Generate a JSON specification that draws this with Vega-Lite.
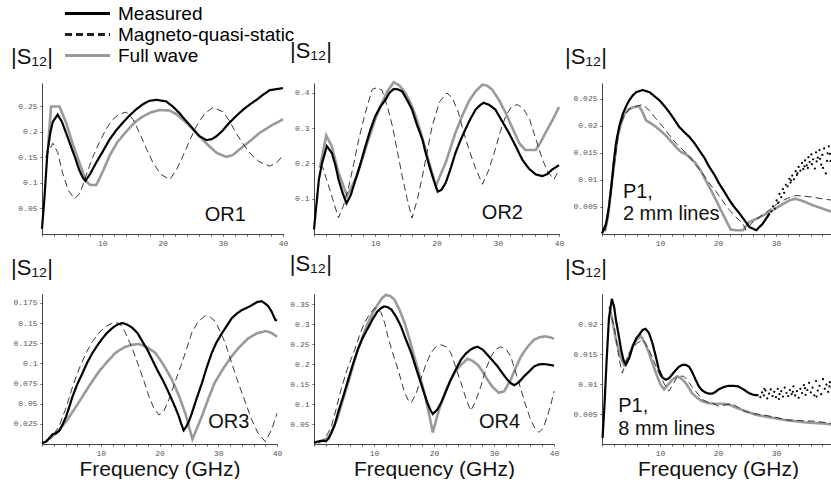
{
"$schema": "https://vega.github.io/schema/vega-lite/v6.json",
"padding": {"left": 11, "top": 3, "right": 0, "bottom": 0},
"autosize": {"type": "pad"},
"columns": 3,
"spacing": {"row": 5, "column": 0},
"align": "each",
"bounds": "full",
"datasets": {
"d": [
{"p":"OR1","s":"F","f":1,"v":0.17},{"p":"OR1","s":"F","f":1.5,"v":0.25},{"p":"OR1","s":"F","f":2.9,"v":0.25},{"p":"OR1","s":"F","f":4,"v":0.218},{"p":"OR1","s":"F","f":5,"v":0.18},{"p":"OR1","s":"F","f":6.2,"v":0.14},{"p":"OR1","s":"F","f":7.3,"v":0.104},{"p":"OR1","s":"F","f":8,"v":0.096},{"p":"OR1","s":"F","f":9,"v":0.096},{"p":"OR1","s":"F","f":10,"v":0.12},{"p":"OR1","s":"F","f":11.2,"v":0.153},{"p":"OR1","s":"F","f":12.5,"v":0.18},{"p":"OR1","s":"F","f":14,"v":0.201},{"p":"OR1","s":"F","f":15.5,"v":0.22},{"p":"OR1","s":"F","f":16.7,"v":0.23},{"p":"OR1","s":"F","f":18,"v":0.238},{"p":"OR1","s":"F","f":19.5,"v":0.243},{"p":"OR1","s":"F","f":21.2,"v":0.242},{"p":"OR1","s":"F","f":22.3,"v":0.235},{"p":"OR1","s":"F","f":23.4,"v":0.224},{"p":"OR1","s":"F","f":24.8,"v":0.208},{"p":"OR1","s":"F","f":26.1,"v":0.192},{"p":"OR1","s":"F","f":27.5,"v":0.175},{"p":"OR1","s":"F","f":29,"v":0.159},{"p":"OR1","s":"F","f":30.6,"v":0.151},{"p":"OR1","s":"F","f":31.7,"v":0.155},{"p":"OR1","s":"F","f":32.8,"v":0.166},{"p":"OR1","s":"F","f":34.5,"v":0.182},{"p":"OR1","s":"F","f":36.1,"v":0.198},{"p":"OR1","s":"F","f":38,"v":0.212},{"p":"OR1","s":"F","f":40,"v":0.225},
{"p":"OR1","s":"Q","f":0.6,"v":0.15},{"p":"OR1","s":"Q","f":1.8,"v":0.178},{"p":"OR1","s":"Q","f":2.6,"v":0.16},{"p":"OR1","s":"Q","f":3.4,"v":0.12},{"p":"OR1","s":"Q","f":4.4,"v":0.085},{"p":"OR1","s":"Q","f":5.4,"v":0.069},{"p":"OR1","s":"Q","f":6.3,"v":0.08},{"p":"OR1","s":"Q","f":7.3,"v":0.114},{"p":"OR1","s":"Q","f":8.4,"v":0.15},{"p":"OR1","s":"Q","f":9.5,"v":0.179},{"p":"OR1","s":"Q","f":10.6,"v":0.205},{"p":"OR1","s":"Q","f":11.7,"v":0.224},{"p":"OR1","s":"Q","f":12.8,"v":0.235},{"p":"OR1","s":"Q","f":14,"v":0.239},{"p":"OR1","s":"Q","f":15.1,"v":0.225},{"p":"OR1","s":"Q","f":16.2,"v":0.198},{"p":"OR1","s":"Q","f":17.3,"v":0.168},{"p":"OR1","s":"Q","f":18.4,"v":0.14},{"p":"OR1","s":"Q","f":19.7,"v":0.117},{"p":"OR1","s":"Q","f":21.2,"v":0.107},{"p":"OR1","s":"Q","f":22.3,"v":0.125},{"p":"OR1","s":"Q","f":23.4,"v":0.153},{"p":"OR1","s":"Q","f":24.5,"v":0.183},{"p":"OR1","s":"Q","f":25.6,"v":0.211},{"p":"OR1","s":"Q","f":27,"v":0.236},{"p":"OR1","s":"Q","f":28.4,"v":0.248},{"p":"OR1","s":"Q","f":30,"v":0.24},{"p":"OR1","s":"Q","f":31.1,"v":0.222},{"p":"OR1","s":"Q","f":32.2,"v":0.198},{"p":"OR1","s":"Q","f":33.4,"v":0.176},{"p":"OR1","s":"Q","f":34.5,"v":0.159},{"p":"OR1","s":"Q","f":36,"v":0.142},{"p":"OR1","s":"Q","f":37.8,"v":0.133},{"p":"OR1","s":"Q","f":39,"v":0.14},{"p":"OR1","s":"Q","f":40,"v":0.154},
{"p":"OR1","s":"M","f":0,"v":0.01},{"p":"OR1","s":"M","f":0.4,"v":0.07},{"p":"OR1","s":"M","f":0.9,"v":0.16},{"p":"OR1","s":"M","f":1.4,"v":0.2},{"p":"OR1","s":"M","f":1.8,"v":0.22},{"p":"OR1","s":"M","f":2.6,"v":0.234},{"p":"OR1","s":"M","f":3.3,"v":0.22},{"p":"OR1","s":"M","f":4,"v":0.198},{"p":"OR1","s":"M","f":4.8,"v":0.172},{"p":"OR1","s":"M","f":5.6,"v":0.146},{"p":"OR1","s":"M","f":6.2,"v":0.125},{"p":"OR1","s":"M","f":6.8,"v":0.11},{"p":"OR1","s":"M","f":7.2,"v":0.104},{"p":"OR1","s":"M","f":8,"v":0.118},{"p":"OR1","s":"M","f":9,"v":0.14},{"p":"OR1","s":"M","f":10,"v":0.16},{"p":"OR1","s":"M","f":11.2,"v":0.185},{"p":"OR1","s":"M","f":12.3,"v":0.203},{"p":"OR1","s":"M","f":13.4,"v":0.218},{"p":"OR1","s":"M","f":14.5,"v":0.232},{"p":"OR1","s":"M","f":15.6,"v":0.244},{"p":"OR1","s":"M","f":16.7,"v":0.254},{"p":"OR1","s":"M","f":17.8,"v":0.261},{"p":"OR1","s":"M","f":19,"v":0.263},{"p":"OR1","s":"M","f":20.6,"v":0.26},{"p":"OR1","s":"M","f":21.7,"v":0.25},{"p":"OR1","s":"M","f":22.8,"v":0.237},{"p":"OR1","s":"M","f":23.6,"v":0.226},{"p":"OR1","s":"M","f":24.5,"v":0.214},{"p":"OR1","s":"M","f":25.3,"v":0.203},{"p":"OR1","s":"M","f":26.1,"v":0.192},{"p":"OR1","s":"M","f":27.3,"v":0.184},{"p":"OR1","s":"M","f":28.2,"v":0.186},{"p":"OR1","s":"M","f":29,"v":0.192},{"p":"OR1","s":"M","f":30,"v":0.203},{"p":"OR1","s":"M","f":31.1,"v":0.218},{"p":"OR1","s":"M","f":32.2,"v":0.231},{"p":"OR1","s":"M","f":33.4,"v":0.244},{"p":"OR1","s":"M","f":34.5,"v":0.254},{"p":"OR1","s":"M","f":35.6,"v":0.263},{"p":"OR1","s":"M","f":36.7,"v":0.273},{"p":"OR1","s":"M","f":37.8,"v":0.282},{"p":"OR1","s":"M","f":38.9,"v":0.284},{"p":"OR1","s":"M","f":40,"v":0.286},

{"p":"OR2","s":"F","f":1,"v":0.192},{"p":"OR2","s":"F","f":2,"v":0.279},{"p":"OR2","s":"F","f":2.9,"v":0.249},{"p":"OR2","s":"F","f":4,"v":0.174},{"p":"OR2","s":"F","f":5.4,"v":0.108},{"p":"OR2","s":"F","f":7,"v":0.164},{"p":"OR2","s":"F","f":8.9,"v":0.268},{"p":"OR2","s":"F","f":10,"v":0.325},{"p":"OR2","s":"F","f":11.1,"v":0.372},{"p":"OR2","s":"F","f":12,"v":0.405},{"p":"OR2","s":"F","f":13,"v":0.43},{"p":"OR2","s":"F","f":14,"v":0.42},{"p":"OR2","s":"F","f":14.9,"v":0.4},{"p":"OR2","s":"F","f":15.8,"v":0.37},{"p":"OR2","s":"F","f":16.6,"v":0.334},{"p":"OR2","s":"F","f":17.4,"v":0.29},{"p":"OR2","s":"F","f":18.2,"v":0.24},{"p":"OR2","s":"F","f":19,"v":0.19},{"p":"OR2","s":"F","f":19.9,"v":0.136},{"p":"OR2","s":"F","f":20.7,"v":0.17},{"p":"OR2","s":"F","f":21.5,"v":0.202},{"p":"OR2","s":"F","f":22.3,"v":0.245},{"p":"OR2","s":"F","f":23.1,"v":0.287},{"p":"OR2","s":"F","f":24.2,"v":0.335},{"p":"OR2","s":"F","f":25.3,"v":0.377},{"p":"OR2","s":"F","f":26.4,"v":0.405},{"p":"OR2","s":"F","f":27.5,"v":0.423},{"p":"OR2","s":"F","f":28.3,"v":0.42},{"p":"OR2","s":"F","f":29.1,"v":0.409},{"p":"OR2","s":"F","f":30.2,"v":0.38},{"p":"OR2","s":"F","f":31.3,"v":0.343},{"p":"OR2","s":"F","f":32.4,"v":0.3},{"p":"OR2","s":"F","f":33.5,"v":0.258},{"p":"OR2","s":"F","f":34.5,"v":0.238},{"p":"OR2","s":"F","f":36.2,"v":0.238},{"p":"OR2","s":"F","f":37,"v":0.26},{"p":"OR2","s":"F","f":37.8,"v":0.287},{"p":"OR2","s":"F","f":39,"v":0.325},{"p":"OR2","s":"F","f":40,"v":0.36},
{"p":"OR2","s":"Q","f":0.8,"v":0.19},{"p":"OR2","s":"Q","f":1.4,"v":0.19},{"p":"OR2","s":"Q","f":2.4,"v":0.136},{"p":"OR2","s":"Q","f":3.2,"v":0.09},{"p":"OR2","s":"Q","f":4,"v":0.046},{"p":"OR2","s":"Q","f":4.8,"v":0.08},{"p":"OR2","s":"Q","f":5.7,"v":0.136},{"p":"OR2","s":"Q","f":6.5,"v":0.2},{"p":"OR2","s":"Q","f":7.3,"v":0.268},{"p":"OR2","s":"Q","f":8.4,"v":0.345},{"p":"OR2","s":"Q","f":9.5,"v":0.41},{"p":"OR2","s":"Q","f":10.3,"v":0.415},{"p":"OR2","s":"Q","f":11.1,"v":0.408},{"p":"OR2","s":"Q","f":12,"v":0.36},{"p":"OR2","s":"Q","f":12.8,"v":0.306},{"p":"OR2","s":"Q","f":13.6,"v":0.235},{"p":"OR2","s":"Q","f":14.4,"v":0.164},{"p":"OR2","s":"Q","f":15.2,"v":0.1},{"p":"OR2","s":"Q","f":16,"v":0.045},{"p":"OR2","s":"Q","f":16.9,"v":0.1},{"p":"OR2","s":"Q","f":17.7,"v":0.164},{"p":"OR2","s":"Q","f":18.5,"v":0.235},{"p":"OR2","s":"Q","f":19.3,"v":0.306},{"p":"OR2","s":"Q","f":20.5,"v":0.375},{"p":"OR2","s":"Q","f":21.7,"v":0.4},{"p":"OR2","s":"Q","f":22.6,"v":0.385},{"p":"OR2","s":"Q","f":23.6,"v":0.343},{"p":"OR2","s":"Q","f":24.4,"v":0.29},{"p":"OR2","s":"Q","f":25.3,"v":0.24},{"p":"OR2","s":"Q","f":26.4,"v":0.185},{"p":"OR2","s":"Q","f":27.5,"v":0.141},{"p":"OR2","s":"Q","f":28.5,"v":0.18},{"p":"OR2","s":"Q","f":29.6,"v":0.24},{"p":"OR2","s":"Q","f":30.4,"v":0.29},{"p":"OR2","s":"Q","f":31.3,"v":0.334},{"p":"OR2","s":"Q","f":32.2,"v":0.36},{"p":"OR2","s":"Q","f":33.2,"v":0.367},{"p":"OR2","s":"Q","f":34.2,"v":0.355},{"p":"OR2","s":"Q","f":35.2,"v":0.325},{"p":"OR2","s":"Q","f":36.2,"v":0.27},{"p":"OR2","s":"Q","f":37.3,"v":0.211},{"p":"OR2","s":"Q","f":38.2,"v":0.175},{"p":"OR2","s":"Q","f":39.2,"v":0.155},{"p":"OR2","s":"Q","f":40,"v":0.183},
{"p":"OR2","s":"M","f":0,"v":0.013},{"p":"OR2","s":"M","f":0.8,"v":0.155},{"p":"OR2","s":"M","f":1.3,"v":0.2},{"p":"OR2","s":"M","f":2.1,"v":0.249},{"p":"OR2","s":"M","f":2.9,"v":0.23},{"p":"OR2","s":"M","f":3.5,"v":0.195},{"p":"OR2","s":"M","f":4,"v":0.155},{"p":"OR2","s":"M","f":4.7,"v":0.115},{"p":"OR2","s":"M","f":5.3,"v":0.087},{"p":"OR2","s":"M","f":6,"v":0.11},{"p":"OR2","s":"M","f":6.8,"v":0.155},{"p":"OR2","s":"M","f":7.6,"v":0.2},{"p":"OR2","s":"M","f":8.4,"v":0.249},{"p":"OR2","s":"M","f":9.2,"v":0.295},{"p":"OR2","s":"M","f":10,"v":0.334},{"p":"OR2","s":"M","f":10.8,"v":0.36},{"p":"OR2","s":"M","f":11.7,"v":0.381},{"p":"OR2","s":"M","f":12.3,"v":0.4},{"p":"OR2","s":"M","f":13,"v":0.411},{"p":"OR2","s":"M","f":13.7,"v":0.41},{"p":"OR2","s":"M","f":14.4,"v":0.404},{"p":"OR2","s":"M","f":15.2,"v":0.38},{"p":"OR2","s":"M","f":16,"v":0.353},{"p":"OR2","s":"M","f":16.8,"v":0.31},{"p":"OR2","s":"M","f":17.7,"v":0.268},{"p":"OR2","s":"M","f":18.3,"v":0.225},{"p":"OR2","s":"M","f":19,"v":0.183},{"p":"OR2","s":"M","f":19.6,"v":0.15},{"p":"OR2","s":"M","f":20.2,"v":0.12},{"p":"OR2","s":"M","f":20.8,"v":0.125},{"p":"OR2","s":"M","f":21.5,"v":0.145},{"p":"OR2","s":"M","f":22.3,"v":0.185},{"p":"OR2","s":"M","f":23.1,"v":0.23},{"p":"OR2","s":"M","f":23.9,"v":0.265},{"p":"OR2","s":"M","f":24.7,"v":0.296},{"p":"OR2","s":"M","f":25.5,"v":0.325},{"p":"OR2","s":"M","f":26.4,"v":0.353},{"p":"OR2","s":"M","f":27.1,"v":0.365},{"p":"OR2","s":"M","f":27.7,"v":0.372},{"p":"OR2","s":"M","f":28.6,"v":0.366},{"p":"OR2","s":"M","f":29.6,"v":0.353},{"p":"OR2","s":"M","f":30.7,"v":0.32},{"p":"OR2","s":"M","f":31.8,"v":0.287},{"p":"OR2","s":"M","f":32.9,"v":0.25},{"p":"OR2","s":"M","f":34,"v":0.211},{"p":"OR2","s":"M","f":35.1,"v":0.185},{"p":"OR2","s":"M","f":36.2,"v":0.169},{"p":"OR2","s":"M","f":37.3,"v":0.164},{"p":"OR2","s":"M","f":38.1,"v":0.17},{"p":"OR2","s":"M","f":38.9,"v":0.183},{"p":"OR2","s":"M","f":40,"v":0.195},

{"p":"P1a","s":"F","f":0.5,"v":0.0005},{"p":"P1a","s":"F","f":1,"v":0.003},{"p":"P1a","s":"F","f":1.6,"v":0.0087},{"p":"P1a","s":"F","f":2.2,"v":0.014},{"p":"P1a","s":"F","f":2.7,"v":0.018},{"p":"P1a","s":"F","f":3.3,"v":0.0205},{"p":"P1a","s":"F","f":3.9,"v":0.0222},{"p":"P1a","s":"F","f":4.6,"v":0.023},{"p":"P1a","s":"F","f":5.3,"v":0.0234},{"p":"P1a","s":"F","f":6.4,"v":0.0236},{"p":"P1a","s":"F","f":7,"v":0.0225},{"p":"P1a","s":"F","f":7.6,"v":0.021},{"p":"P1a","s":"F","f":8.5,"v":0.0204},{"p":"P1a","s":"F","f":9.3,"v":0.0198},{"p":"P1a","s":"F","f":10.2,"v":0.019},{"p":"P1a","s":"F","f":11,"v":0.0182},{"p":"P1a","s":"F","f":11.9,"v":0.0171},{"p":"P1a","s":"F","f":12.8,"v":0.016},{"p":"P1a","s":"F","f":13.6,"v":0.0152},{"p":"P1a","s":"F","f":14.5,"v":0.0147},{"p":"P1a","s":"F","f":15.3,"v":0.014},{"p":"P1a","s":"F","f":16.2,"v":0.013},{"p":"P1a","s":"F","f":17,"v":0.0117},{"p":"P1a","s":"F","f":17.9,"v":0.0099},{"p":"P1a","s":"F","f":18.8,"v":0.0081},{"p":"P1a","s":"F","f":19.7,"v":0.0062},{"p":"P1a","s":"F","f":20.5,"v":0.0044},{"p":"P1a","s":"F","f":21.4,"v":0.0025},{"p":"P1a","s":"F","f":22.2,"v":0.0008},{"p":"P1a","s":"F","f":23.2,"v":0.0007},{"p":"P1a","s":"F","f":24.3,"v":0.0007},{"p":"P1a","s":"F","f":25.4,"v":0.0022},{"p":"P1a","s":"F","f":26.6,"v":0.0028},{"p":"P1a","s":"F","f":27.7,"v":0.0034},{"p":"P1a","s":"F","f":28.8,"v":0.004},{"p":"P1a","s":"F","f":29.9,"v":0.0047},{"p":"P1a","s":"F","f":31.1,"v":0.0055},{"p":"P1a","s":"F","f":32.3,"v":0.0062},{"p":"P1a","s":"F","f":33.4,"v":0.0065},{"p":"P1a","s":"F","f":34.6,"v":0.0061},{"p":"P1a","s":"F","f":35.7,"v":0.0056},{"p":"P1a","s":"F","f":36.9,"v":0.0051},{"p":"P1a","s":"F","f":38,"v":0.0047},{"p":"P1a","s":"F","f":39,"v":0.0043},{"p":"P1a","s":"F","f":40,"v":0.004},
{"p":"P1a","s":"Q","f":0.5,"v":0.0005},{"p":"P1a","s":"Q","f":1,"v":0.003},{"p":"P1a","s":"Q","f":1.6,"v":0.008},{"p":"P1a","s":"Q","f":2.3,"v":0.014},{"p":"P1a","s":"Q","f":3,"v":0.0198},{"p":"P1a","s":"Q","f":3.8,"v":0.0218},{"p":"P1a","s":"Q","f":4.7,"v":0.0231},{"p":"P1a","s":"Q","f":5.8,"v":0.0236},{"p":"P1a","s":"Q","f":7,"v":0.0239},{"p":"P1a","s":"Q","f":8.2,"v":0.0228},{"p":"P1a","s":"Q","f":9.3,"v":0.0213},{"p":"P1a","s":"Q","f":10.5,"v":0.0198},{"p":"P1a","s":"Q","f":11.6,"v":0.0183},{"p":"P1a","s":"Q","f":12.8,"v":0.0167},{"p":"P1a","s":"Q","f":14,"v":0.0155},{"p":"P1a","s":"Q","f":15.1,"v":0.0142},{"p":"P1a","s":"Q","f":16.2,"v":0.0127},{"p":"P1a","s":"Q","f":17.4,"v":0.0111},{"p":"P1a","s":"Q","f":18.5,"v":0.0094},{"p":"P1a","s":"Q","f":19.7,"v":0.0078},{"p":"P1a","s":"Q","f":20.8,"v":0.0061},{"p":"P1a","s":"Q","f":22,"v":0.0044},{"p":"P1a","s":"Q","f":23.1,"v":0.0031},{"p":"P1a","s":"Q","f":24.3,"v":0.0019},{"p":"P1a","s":"Q","f":24.8,"v":0.0007},{"p":"P1a","s":"Q","f":26,"v":0.0022},{"p":"P1a","s":"Q","f":27.1,"v":0.0031},{"p":"P1a","s":"Q","f":28.3,"v":0.004},{"p":"P1a","s":"Q","f":29.5,"v":0.005},{"p":"P1a","s":"Q","f":30.6,"v":0.0059},{"p":"P1a","s":"Q","f":32,"v":0.0066},{"p":"P1a","s":"Q","f":33.4,"v":0.0071},{"p":"P1a","s":"Q","f":34.8,"v":0.007},{"p":"P1a","s":"Q","f":36.3,"v":0.0068},{"p":"P1a","s":"Q","f":38,"v":0.0065},{"p":"P1a","s":"Q","f":40,"v":0.0062},
{"p":"P1a","s":"M","f":0,"v":0.0001},{"p":"P1a","s":"M","f":0.7,"v":0.0019},{"p":"P1a","s":"M","f":1.2,"v":0.005},{"p":"P1a","s":"M","f":1.6,"v":0.0087},{"p":"P1a","s":"M","f":2,"v":0.013},{"p":"P1a","s":"M","f":2.4,"v":0.0167},{"p":"P1a","s":"M","f":3,"v":0.02},{"p":"P1a","s":"M","f":3.6,"v":0.0222},{"p":"P1a","s":"M","f":4.2,"v":0.0237},{"p":"P1a","s":"M","f":4.7,"v":0.0247},{"p":"P1a","s":"M","f":5.3,"v":0.0256},{"p":"P1a","s":"M","f":5.9,"v":0.0262},{"p":"P1a","s":"M","f":7,"v":0.0266},{"p":"P1a","s":"M","f":8.2,"v":0.0262},{"p":"P1a","s":"M","f":9,"v":0.0255},{"p":"P1a","s":"M","f":9.9,"v":0.0247},{"p":"P1a","s":"M","f":10.8,"v":0.0236},{"p":"P1a","s":"M","f":11.6,"v":0.0225},{"p":"P1a","s":"M","f":12.5,"v":0.0211},{"p":"P1a","s":"M","f":13.3,"v":0.0198},{"p":"P1a","s":"M","f":14.2,"v":0.0188},{"p":"P1a","s":"M","f":15.1,"v":0.0179},{"p":"P1a","s":"M","f":16,"v":0.0167},{"p":"P1a","s":"M","f":16.8,"v":0.0154},{"p":"P1a","s":"M","f":17.7,"v":0.014},{"p":"P1a","s":"M","f":18.5,"v":0.0124},{"p":"P1a","s":"M","f":19.4,"v":0.0109},{"p":"P1a","s":"M","f":20.2,"v":0.0093},{"p":"P1a","s":"M","f":21.1,"v":0.0078},{"p":"P1a","s":"M","f":22,"v":0.0062},{"p":"P1a","s":"M","f":22.8,"v":0.005},{"p":"P1a","s":"M","f":23.7,"v":0.0038},{"p":"P1a","s":"M","f":24.6,"v":0.0025},{"p":"P1a","s":"M","f":25.4,"v":0.0013},{"p":"P1a","s":"M","f":26.6,"v":0.0007},{"p":"P1a","s":"M","f":27.7,"v":0.0019},{"p":"P1a","s":"M","f":28.9,"v":0.0038},

{"p":"OR3","s":"F","f":0.4,"v":0.002},{"p":"OR3","s":"F","f":1.8,"v":0.0095},{"p":"OR3","s":"F","f":3,"v":0.018},{"p":"OR3","s":"F","f":4.1,"v":0.028},{"p":"OR3","s":"F","f":5.5,"v":0.043},{"p":"OR3","s":"F","f":6.9,"v":0.059},{"p":"OR3","s":"F","f":8.3,"v":0.075},{"p":"OR3","s":"F","f":9.7,"v":0.09},{"p":"OR3","s":"F","f":11.1,"v":0.102},{"p":"OR3","s":"F","f":12.5,"v":0.113},{"p":"OR3","s":"F","f":14,"v":0.12},{"p":"OR3","s":"F","f":15.3,"v":0.123},{"p":"OR3","s":"F","f":16.5,"v":0.124},{"p":"OR3","s":"F","f":17.9,"v":0.12},{"p":"OR3","s":"F","f":19.3,"v":0.113},{"p":"OR3","s":"F","f":20.7,"v":0.098},{"p":"OR3","s":"F","f":22.1,"v":0.08},{"p":"OR3","s":"F","f":23.3,"v":0.06},{"p":"OR3","s":"F","f":24.4,"v":0.038},{"p":"OR3","s":"F","f":25,"v":0.022},{"p":"OR3","s":"F","f":25.6,"v":0.006},{"p":"OR3","s":"F","f":26.4,"v":0.02},{"p":"OR3","s":"F","f":27.2,"v":0.034},{"p":"OR3","s":"F","f":28.3,"v":0.056},{"p":"OR3","s":"F","f":29.4,"v":0.076},{"p":"OR3","s":"F","f":30.8,"v":0.093},{"p":"OR3","s":"F","f":32.3,"v":0.109},{"p":"OR3","s":"F","f":33.7,"v":0.121},{"p":"OR3","s":"F","f":35.1,"v":0.131},{"p":"OR3","s":"F","f":36.5,"v":0.137},{"p":"OR3","s":"F","f":38,"v":0.14},{"p":"OR3","s":"F","f":39,"v":0.138},{"p":"OR3","s":"F","f":40,"v":0.133},
{"p":"OR3","s":"Q","f":0.7,"v":0.003},{"p":"OR3","s":"Q","f":1.8,"v":0.01},{"p":"OR3","s":"Q","f":2.9,"v":0.022},{"p":"OR3","s":"Q","f":4.1,"v":0.045},{"p":"OR3","s":"Q","f":5.2,"v":0.071},{"p":"OR3","s":"Q","f":6.3,"v":0.093},{"p":"OR3","s":"Q","f":7.5,"v":0.113},{"p":"OR3","s":"Q","f":8.6,"v":0.127},{"p":"OR3","s":"Q","f":9.7,"v":0.138},{"p":"OR3","s":"Q","f":10.9,"v":0.146},{"p":"OR3","s":"Q","f":12,"v":0.15},{"p":"OR3","s":"Q","f":12.7,"v":0.151},{"p":"OR3","s":"Q","f":13.5,"v":0.147},{"p":"OR3","s":"Q","f":14.2,"v":0.138},{"p":"OR3","s":"Q","f":15.4,"v":0.118},{"p":"OR3","s":"Q","f":16.5,"v":0.096},{"p":"OR3","s":"Q","f":17.4,"v":0.077},{"p":"OR3","s":"Q","f":18.2,"v":0.059},{"p":"OR3","s":"Q","f":19,"v":0.045},{"p":"OR3","s":"Q","f":19.9,"v":0.036},{"p":"OR3","s":"Q","f":20.7,"v":0.04},{"p":"OR3","s":"Q","f":21.6,"v":0.055},{"p":"OR3","s":"Q","f":22.7,"v":0.078},{"p":"OR3","s":"Q","f":23.8,"v":0.1},{"p":"OR3","s":"Q","f":24.7,"v":0.12},{"p":"OR3","s":"Q","f":25.5,"v":0.138},{"p":"OR3","s":"Q","f":26.6,"v":0.152},{"p":"OR3","s":"Q","f":27.8,"v":0.159},{"p":"OR3","s":"Q","f":28.7,"v":0.157},{"p":"OR3","s":"Q","f":29.5,"v":0.152},{"p":"OR3","s":"Q","f":30.3,"v":0.14},{"p":"OR3","s":"Q","f":31.2,"v":0.125},{"p":"OR3","s":"Q","f":32.3,"v":0.1},{"p":"OR3","s":"Q","f":33.4,"v":0.076},{"p":"OR3","s":"Q","f":34.6,"v":0.052},{"p":"OR3","s":"Q","f":35.7,"v":0.03},{"p":"OR3","s":"Q","f":36.8,"v":0.013},{"p":"OR3","s":"Q","f":38,"v":0.003},{"p":"OR3","s":"Q","f":39.1,"v":0.018},{"p":"OR3","s":"Q","f":40,"v":0.038},
{"p":"OR3","s":"M","f":0,"v":0.001},{"p":"OR3","s":"M","f":0.7,"v":0.003},{"p":"OR3","s":"M","f":1.2,"v":0.007},{"p":"OR3","s":"M","f":1.8,"v":0.012},{"p":"OR3","s":"M","f":2.3,"v":0.013},{"p":"OR3","s":"M","f":2.9,"v":0.016},{"p":"OR3","s":"M","f":3.5,"v":0.024},{"p":"OR3","s":"M","f":4.1,"v":0.034},{"p":"OR3","s":"M","f":4.6,"v":0.045},{"p":"OR3","s":"M","f":5.2,"v":0.059},{"p":"OR3","s":"M","f":6,"v":0.074},{"p":"OR3","s":"M","f":6.9,"v":0.088},{"p":"OR3","s":"M","f":7.7,"v":0.101},{"p":"OR3","s":"M","f":8.6,"v":0.113},{"p":"OR3","s":"M","f":9.4,"v":0.122},{"p":"OR3","s":"M","f":10.3,"v":0.131},{"p":"OR3","s":"M","f":11.1,"v":0.138},{"p":"OR3","s":"M","f":12,"v":0.144},{"p":"OR3","s":"M","f":12.8,"v":0.148},{"p":"OR3","s":"M","f":13.7,"v":0.15},{"p":"OR3","s":"M","f":14.5,"v":0.148},{"p":"OR3","s":"M","f":15.4,"v":0.144},{"p":"OR3","s":"M","f":16.3,"v":0.137},{"p":"OR3","s":"M","f":17.1,"v":0.127},{"p":"OR3","s":"M","f":18,"v":0.116},{"p":"OR3","s":"M","f":18.8,"v":0.104},{"p":"OR3","s":"M","f":19.6,"v":0.092},{"p":"OR3","s":"M","f":20.5,"v":0.08},{"p":"OR3","s":"M","f":21.3,"v":0.068},{"p":"OR3","s":"M","f":22.1,"v":0.055},{"p":"OR3","s":"M","f":22.7,"v":0.045},{"p":"OR3","s":"M","f":23.3,"v":0.034},{"p":"OR3","s":"M","f":23.7,"v":0.025},{"p":"OR3","s":"M","f":24.1,"v":0.017},{"p":"OR3","s":"M","f":24.6,"v":0.022},{"p":"OR3","s":"M","f":25,"v":0.028},{"p":"OR3","s":"M","f":25.5,"v":0.038},{"p":"OR3","s":"M","f":26.3,"v":0.056},{"p":"OR3","s":"M","f":27.2,"v":0.075},{"p":"OR3","s":"M","f":28,"v":0.094},{"p":"OR3","s":"M","f":28.9,"v":0.113},{"p":"OR3","s":"M","f":29.7,"v":0.126},{"p":"OR3","s":"M","f":30.6,"v":0.137},{"p":"OR3","s":"M","f":31.5,"v":0.147},{"p":"OR3","s":"M","f":32.3,"v":0.156},{"p":"OR3","s":"M","f":33.2,"v":0.162},{"p":"OR3","s":"M","f":34,"v":0.166},{"p":"OR3","s":"M","f":34.9,"v":0.169},{"p":"OR3","s":"M","f":35.7,"v":0.172},{"p":"OR3","s":"M","f":36.6,"v":0.176},{"p":"OR3","s":"M","f":37.4,"v":0.177},{"p":"OR3","s":"M","f":38,"v":0.174},{"p":"OR3","s":"M","f":38.5,"v":0.171},{"p":"OR3","s":"M","f":39.1,"v":0.164},{"p":"OR3","s":"M","f":39.7,"v":0.154},{"p":"OR3","s":"M","f":40,"v":0.153},

{"p":"OR4","s":"F","f":0.7,"v":0.003},{"p":"OR4","s":"F","f":2.3,"v":0.015},{"p":"OR4","s":"F","f":3.1,"v":0.035},{"p":"OR4","s":"F","f":4,"v":0.069},{"p":"OR4","s":"F","f":4.8,"v":0.11},{"p":"OR4","s":"F","f":5.7,"v":0.153},{"p":"OR4","s":"F","f":6.5,"v":0.195},{"p":"OR4","s":"F","f":7.3,"v":0.236},{"p":"OR4","s":"F","f":8.2,"v":0.272},{"p":"OR4","s":"F","f":9,"v":0.303},{"p":"OR4","s":"F","f":9.8,"v":0.328},{"p":"OR4","s":"F","f":10.6,"v":0.348},{"p":"OR4","s":"F","f":11.3,"v":0.364},{"p":"OR4","s":"F","f":12,"v":0.373},{"p":"OR4","s":"F","f":12.7,"v":0.37},{"p":"OR4","s":"F","f":13.4,"v":0.361},{"p":"OR4","s":"F","f":14.2,"v":0.337},{"p":"OR4","s":"F","f":15.1,"v":0.303},{"p":"OR4","s":"F","f":15.9,"v":0.263},{"p":"OR4","s":"F","f":16.7,"v":0.219},{"p":"OR4","s":"F","f":17.6,"v":0.172},{"p":"OR4","s":"F","f":18.4,"v":0.128},{"p":"OR4","s":"F","f":19.1,"v":0.08},{"p":"OR4","s":"F","f":19.8,"v":0.029},{"p":"OR4","s":"F","f":20.5,"v":0.068},{"p":"OR4","s":"F","f":21.2,"v":0.103},{"p":"OR4","s":"F","f":22,"v":0.135},{"p":"OR4","s":"F","f":22.8,"v":0.161},{"p":"OR4","s":"F","f":23.6,"v":0.182},{"p":"OR4","s":"F","f":24.5,"v":0.198},{"p":"OR4","s":"F","f":25.6,"v":0.213},{"p":"OR4","s":"F","f":26.4,"v":0.208},{"p":"OR4","s":"F","f":27.3,"v":0.198},{"p":"OR4","s":"F","f":28.1,"v":0.181},{"p":"OR4","s":"F","f":28.9,"v":0.161},{"p":"OR4","s":"F","f":29.8,"v":0.142},{"p":"OR4","s":"F","f":30.8,"v":0.128},{"p":"OR4","s":"F","f":31.7,"v":0.132},{"p":"OR4","s":"F","f":32.8,"v":0.161},{"p":"OR4","s":"F","f":33.6,"v":0.19},{"p":"OR4","s":"F","f":34.5,"v":0.219},{"p":"OR4","s":"F","f":35.6,"v":0.243},{"p":"OR4","s":"F","f":36.7,"v":0.261},{"p":"OR4","s":"F","f":37.6,"v":0.267},{"p":"OR4","s":"F","f":38.6,"v":0.269},{"p":"OR4","s":"F","f":39.3,"v":0.267},{"p":"OR4","s":"F","f":40,"v":0.263},
{"p":"OR4","s":"Q","f":0.7,"v":0.004},{"p":"OR4","s":"Q","f":1.8,"v":0.012},{"p":"OR4","s":"Q","f":2.9,"v":0.044},{"p":"OR4","s":"Q","f":3.7,"v":0.088},{"p":"OR4","s":"Q","f":4.5,"v":0.136},{"p":"OR4","s":"Q","f":5.6,"v":0.19},{"p":"OR4","s":"Q","f":6.8,"v":0.236},{"p":"OR4","s":"Q","f":7.6,"v":0.272},{"p":"OR4","s":"Q","f":8.4,"v":0.303},{"p":"OR4","s":"Q","f":9.3,"v":0.325},{"p":"OR4","s":"Q","f":10.1,"v":0.34},{"p":"OR4","s":"Q","f":10.6,"v":0.338},{"p":"OR4","s":"Q","f":11.2,"v":0.328},{"p":"OR4","s":"Q","f":11.8,"v":0.302},{"p":"OR4","s":"Q","f":12.3,"v":0.269},{"p":"OR4","s":"Q","f":13.1,"v":0.228},{"p":"OR4","s":"Q","f":14,"v":0.186},{"p":"OR4","s":"Q","f":14.6,"v":0.155},{"p":"OR4","s":"Q","f":15.1,"v":0.128},{"p":"OR4","s":"Q","f":15.7,"v":0.11},{"p":"OR4","s":"Q","f":16.2,"v":0.103},{"p":"OR4","s":"Q","f":17,"v":0.125},{"p":"OR4","s":"Q","f":17.8,"v":0.161},{"p":"OR4","s":"Q","f":18.6,"v":0.197},{"p":"OR4","s":"Q","f":19.5,"v":0.228},{"p":"OR4","s":"Q","f":20.3,"v":0.243},{"p":"OR4","s":"Q","f":21.2,"v":0.248},{"p":"OR4","s":"Q","f":22,"v":0.243},{"p":"OR4","s":"Q","f":22.8,"v":0.228},{"p":"OR4","s":"Q","f":23.6,"v":0.193},{"p":"OR4","s":"Q","f":24.5,"v":0.153},{"p":"OR4","s":"Q","f":25.3,"v":0.115},{"p":"OR4","s":"Q","f":26.1,"v":0.083},{"p":"OR4","s":"Q","f":26.9,"v":0.105},{"p":"OR4","s":"Q","f":27.8,"v":0.144},{"p":"OR4","s":"Q","f":28.6,"v":0.185},{"p":"OR4","s":"Q","f":29.5,"v":0.219},{"p":"OR4","s":"Q","f":30.3,"v":0.237},{"p":"OR4","s":"Q","f":31.1,"v":0.243},{"p":"OR4","s":"Q","f":32,"v":0.237},{"p":"OR4","s":"Q","f":32.8,"v":0.219},{"p":"OR4","s":"Q","f":33.6,"v":0.18},{"p":"OR4","s":"Q","f":34.5,"v":0.136},{"p":"OR4","s":"Q","f":35.3,"v":0.096},{"p":"OR4","s":"Q","f":36.1,"v":0.061},{"p":"OR4","s":"Q","f":36.8,"v":0.04},{"p":"OR4","s":"Q","f":37.5,"v":0.029},{"p":"OR4","s":"Q","f":38.2,"v":0.04},{"p":"OR4","s":"Q","f":38.9,"v":0.069},{"p":"OR4","s":"Q","f":39.5,"v":0.1},{"p":"OR4","s":"Q","f":40,"v":0.132},
{"p":"OR4","s":"M","f":0,"v":0.003},{"p":"OR4","s":"M","f":0.6,"v":0.006},{"p":"OR4","s":"M","f":1.2,"v":0.008},{"p":"OR4","s":"M","f":2,"v":0.007},{"p":"OR4","s":"M","f":2.5,"v":0.015},{"p":"OR4","s":"M","f":2.9,"v":0.028},{"p":"OR4","s":"M","f":3.5,"v":0.05},{"p":"OR4","s":"M","f":4,"v":0.078},{"p":"OR4","s":"M","f":4.9,"v":0.12},{"p":"OR4","s":"M","f":5.7,"v":0.161},{"p":"OR4","s":"M","f":6.5,"v":0.2},{"p":"OR4","s":"M","f":7.3,"v":0.236},{"p":"OR4","s":"M","f":8.1,"v":0.265},{"p":"OR4","s":"M","f":9,"v":0.29},{"p":"OR4","s":"M","f":9.8,"v":0.313},{"p":"OR4","s":"M","f":10.6,"v":0.332},{"p":"OR4","s":"M","f":11.2,"v":0.34},{"p":"OR4","s":"M","f":11.7,"v":0.344},{"p":"OR4","s":"M","f":12.3,"v":0.342},{"p":"OR4","s":"M","f":12.9,"v":0.336},{"p":"OR4","s":"M","f":13.7,"v":0.318},{"p":"OR4","s":"M","f":14.5,"v":0.294},{"p":"OR4","s":"M","f":15.3,"v":0.262},{"p":"OR4","s":"M","f":16.2,"v":0.228},{"p":"OR4","s":"M","f":17,"v":0.19},{"p":"OR4","s":"M","f":17.8,"v":0.153},{"p":"OR4","s":"M","f":18.4,"v":0.125},{"p":"OR4","s":"M","f":18.9,"v":0.103},{"p":"OR4","s":"M","f":19.4,"v":0.085},{"p":"OR4","s":"M","f":19.8,"v":0.075},{"p":"OR4","s":"M","f":20.5,"v":0.085},{"p":"OR4","s":"M","f":21.2,"v":0.103},{"p":"OR4","s":"M","f":22,"v":0.132},{"p":"OR4","s":"M","f":22.8,"v":0.161},{"p":"OR4","s":"M","f":23.7,"v":0.188},{"p":"OR4","s":"M","f":24.5,"v":0.211},{"p":"OR4","s":"M","f":25.3,"v":0.226},{"p":"OR4","s":"M","f":26.1,"v":0.236},{"p":"OR4","s":"M","f":26.7,"v":0.241},{"p":"OR4","s":"M","f":27.3,"v":0.243},{"p":"OR4","s":"M","f":28.1,"v":0.236},{"p":"OR4","s":"M","f":28.9,"v":0.223},{"p":"OR4","s":"M","f":29.8,"v":0.208},{"p":"OR4","s":"M","f":30.6,"v":0.194},{"p":"OR4","s":"M","f":31.4,"v":0.177},{"p":"OR4","s":"M","f":32.2,"v":0.161},{"p":"OR4","s":"M","f":32.8,"v":0.152},{"p":"OR4","s":"M","f":33.4,"v":0.147},{"p":"OR4","s":"M","f":34.2,"v":0.155},{"p":"OR4","s":"M","f":35,"v":0.169},{"p":"OR4","s":"M","f":35.9,"v":0.182},{"p":"OR4","s":"M","f":36.7,"v":0.194},{"p":"OR4","s":"M","f":37.5,"v":0.199},{"p":"OR4","s":"M","f":38.3,"v":0.2},{"p":"OR4","s":"M","f":39.2,"v":0.198},{"p":"OR4","s":"M","f":40,"v":0.196},

{"p":"P1b","s":"F","f":1.3,"v":0.0229},{"p":"P1b","s":"F","f":1.9,"v":0.02},{"p":"P1b","s":"F","f":2.4,"v":0.0174},{"p":"P1b","s":"F","f":3.1,"v":0.0148},{"p":"P1b","s":"F","f":3.8,"v":0.0132},{"p":"P1b","s":"F","f":4.5,"v":0.0143},{"p":"P1b","s":"F","f":5.3,"v":0.0163},{"p":"P1b","s":"F","f":6,"v":0.0174},{"p":"P1b","s":"F","f":6.7,"v":0.018},{"p":"P1b","s":"F","f":7.4,"v":0.0168},{"p":"P1b","s":"F","f":8.1,"v":0.0152},{"p":"P1b","s":"F","f":8.8,"v":0.0132},{"p":"P1b","s":"F","f":9.5,"v":0.0113},{"p":"P1b","s":"F","f":10.1,"v":0.0099},{"p":"P1b","s":"F","f":10.7,"v":0.0091},{"p":"P1b","s":"F","f":11.4,"v":0.0099},{"p":"P1b","s":"F","f":12.1,"v":0.0107},{"p":"P1b","s":"F","f":13,"v":0.0113},{"p":"P1b","s":"F","f":13.7,"v":0.0109},{"p":"P1b","s":"F","f":14.4,"v":0.0102},{"p":"P1b","s":"F","f":15,"v":0.0093},{"p":"P1b","s":"F","f":15.5,"v":0.0085},{"p":"P1b","s":"F","f":16.4,"v":0.0077},{"p":"P1b","s":"F","f":17.3,"v":0.0071},{"p":"P1b","s":"F","f":18.4,"v":0.0068},{"p":"P1b","s":"F","f":19.5,"v":0.0067},{"p":"P1b","s":"F","f":20.6,"v":0.0067},{"p":"P1b","s":"F","f":21.8,"v":0.0066},{"p":"P1b","s":"F","f":23,"v":0.0061},{"p":"P1b","s":"F","f":24.1,"v":0.0057},{"p":"P1b","s":"F","f":25.3,"v":0.0053},{"p":"P1b","s":"F","f":26.4,"v":0.0049},{"p":"P1b","s":"F","f":28,"v":0.0046},{"p":"P1b","s":"F","f":29.8,"v":0.0043},{"p":"P1b","s":"F","f":31.5,"v":0.004},{"p":"P1b","s":"F","f":33.3,"v":0.0038},{"p":"P1b","s":"F","f":35,"v":0.0036},{"p":"P1b","s":"F","f":36.7,"v":0.0035},{"p":"P1b","s":"F","f":38.3,"v":0.0034},{"p":"P1b","s":"F","f":40,"v":0.0032},
{"p":"P1b","s":"Q","f":1.3,"v":0.0229},{"p":"P1b","s":"Q","f":1.7,"v":0.021},{"p":"P1b","s":"Q","f":2.1,"v":0.0196},{"p":"P1b","s":"Q","f":2.6,"v":0.0165},{"p":"P1b","s":"Q","f":3,"v":0.014},{"p":"P1b","s":"Q","f":3.5,"v":0.0118},{"p":"P1b","s":"Q","f":4.1,"v":0.0136},{"p":"P1b","s":"Q","f":4.7,"v":0.0152},{"p":"P1b","s":"Q","f":5.4,"v":0.0162},{"p":"P1b","s":"Q","f":6.1,"v":0.0168},{"p":"P1b","s":"Q","f":7,"v":0.0174},{"p":"P1b","s":"Q","f":7.5,"v":0.0168},{"p":"P1b","s":"Q","f":8.1,"v":0.0157},{"p":"P1b","s":"Q","f":9,"v":0.0137},{"p":"P1b","s":"Q","f":9.8,"v":0.0118},{"p":"P1b","s":"Q","f":10.7,"v":0.0101},{"p":"P1b","s":"Q","f":11.5,"v":0.0088},{"p":"P1b","s":"Q","f":12.2,"v":0.0098},{"p":"P1b","s":"Q","f":13,"v":0.0113},{"p":"P1b","s":"Q","f":14.1,"v":0.0113},{"p":"P1b","s":"Q","f":14.8,"v":0.0105},{"p":"P1b","s":"Q","f":15.5,"v":0.0096},{"p":"P1b","s":"Q","f":16.4,"v":0.0085},{"p":"P1b","s":"Q","f":17.3,"v":0.0074},{"p":"P1b","s":"Q","f":18.2,"v":0.007},{"p":"P1b","s":"Q","f":19,"v":0.0068},{"p":"P1b","s":"Q","f":20.1,"v":0.0063},{"p":"P1b","s":"Q","f":21.2,"v":0.0065},{"p":"P1b","s":"Q","f":22.4,"v":0.0067},{"p":"P1b","s":"Q","f":23.5,"v":0.0061},{"p":"P1b","s":"Q","f":24.7,"v":0.0054},{"p":"P1b","s":"Q","f":26,"v":0.0051},{"p":"P1b","s":"Q","f":27.5,"v":0.0049},{"p":"P1b","s":"Q","f":29.7,"v":0.0045},{"p":"P1b","s":"Q","f":32,"v":0.004},{"p":"P1b","s":"Q","f":34.3,"v":0.0039},{"p":"P1b","s":"Q","f":36.7,"v":0.0038},{"p":"P1b","s":"Q","f":38.3,"v":0.0036},{"p":"P1b","s":"Q","f":40,"v":0.0034},
{"p":"P1b","s":"M","f":0.1,"v":0.001},{"p":"P1b","s":"M","f":0.4,"v":0.006},{"p":"P1b","s":"M","f":0.8,"v":0.014},{"p":"P1b","s":"M","f":1.2,"v":0.021},{"p":"P1b","s":"M","f":1.7,"v":0.0242},{"p":"P1b","s":"M","f":2.1,"v":0.0228},{"p":"P1b","s":"M","f":2.4,"v":0.0207},{"p":"P1b","s":"M","f":2.9,"v":0.018},{"p":"P1b","s":"M","f":3.3,"v":0.0157},{"p":"P1b","s":"M","f":3.7,"v":0.014},{"p":"P1b","s":"M","f":4.1,"v":0.0132},{"p":"P1b","s":"M","f":4.7,"v":0.0143},{"p":"P1b","s":"M","f":5.3,"v":0.0163},{"p":"P1b","s":"M","f":5.9,"v":0.0176},{"p":"P1b","s":"M","f":6.4,"v":0.0182},{"p":"P1b","s":"M","f":7,"v":0.019},{"p":"P1b","s":"M","f":7.5,"v":0.0192},{"p":"P1b","s":"M","f":8.1,"v":0.0185},{"p":"P1b","s":"M","f":8.7,"v":0.0168},{"p":"P1b","s":"M","f":9.3,"v":0.0145},{"p":"P1b","s":"M","f":9.8,"v":0.0124},{"p":"P1b","s":"M","f":10.4,"v":0.0111},{"p":"P1b","s":"M","f":11,"v":0.0107},{"p":"P1b","s":"M","f":11.6,"v":0.011},{"p":"P1b","s":"M","f":12.1,"v":0.0116},{"p":"P1b","s":"M","f":12.7,"v":0.0123},{"p":"P1b","s":"M","f":13.3,"v":0.0129},{"p":"P1b","s":"M","f":13.9,"v":0.0132},{"p":"P1b","s":"M","f":14.4,"v":0.0132},{"p":"P1b","s":"M","f":15,"v":0.0129},{"p":"P1b","s":"M","f":15.5,"v":0.0121},{"p":"P1b","s":"M","f":16.1,"v":0.0108},{"p":"P1b","s":"M","f":16.7,"v":0.0096},{"p":"P1b","s":"M","f":17.2,"v":0.009},{"p":"P1b","s":"M","f":17.8,"v":0.0086},{"p":"P1b","s":"M","f":18.4,"v":0.0084},{"p":"P1b","s":"M","f":19,"v":0.0084},{"p":"P1b","s":"M","f":19.6,"v":0.0087},{"p":"P1b","s":"M","f":20.1,"v":0.0091},{"p":"P1b","s":"M","f":21,"v":0.0095},{"p":"P1b","s":"M","f":21.8,"v":0.0097},{"p":"P1b","s":"M","f":22.6,"v":0.0097},{"p":"P1b","s":"M","f":23.5,"v":0.0096},{"p":"P1b","s":"M","f":24.4,"v":0.0091},{"p":"P1b","s":"M","f":25.3,"v":0.0085},{"p":"P1b","s":"M","f":26.1,"v":0.0082},{"p":"P1b","s":"M","f":27,"v":0.0081}
],
"sc": [
{"p":"P1a","f":29.2,"v":0.0042},{"p":"P1a","f":29.5,"v":0.0051},{"p":"P1a","f":29.8,"v":0.0047},{"p":"P1a","f":30.1,"v":0.0062},{"p":"P1a","f":30.4,"v":0.0058},{"p":"P1a","f":30.6,"v":0.0074},{"p":"P1a","f":30.9,"v":0.0068},{"p":"P1a","f":31.2,"v":0.0083},{"p":"P1a","f":31.4,"v":0.0076},{"p":"P1a","f":31.7,"v":0.0091},{"p":"P1a","f":32,"v":0.0088},{"p":"P1a","f":32.3,"v":0.0102},{"p":"P1a","f":32.5,"v":0.0095},{"p":"P1a","f":32.6,"v":0.0099},{"p":"P1a","f":32.8,"v":0.0108},{"p":"P1a","f":33.1,"v":0.0101},{"p":"P1a","f":33.4,"v":0.0116},{"p":"P1a","f":33.6,"v":0.0109},{"p":"P1a","f":33.7,"v":0.0112},{"p":"P1a","f":33.9,"v":0.0124},{"p":"P1a","f":34.2,"v":0.0117},{"p":"P1a","f":34.5,"v":0.0131},{"p":"P1a","f":34.7,"v":0.012},{"p":"P1a","f":34.9,"v":0.0125},{"p":"P1a","f":35,"v":0.0136},{"p":"P1a","f":35.3,"v":0.0127},{"p":"P1a","f":35.5,"v":0.0122},{"p":"P1a","f":35.6,"v":0.0142},{"p":"P1a","f":35.8,"v":0.0133},{"p":"P1a","f":36.1,"v":0.0147},{"p":"P1a","f":36.2,"v":0.0129},{"p":"P1a","f":36.4,"v":0.0138},{"p":"P1a","f":36.7,"v":0.0121},{"p":"P1a","f":36.9,"v":0.0151},{"p":"P1a","f":37,"v":0.0134},{"p":"P1a","f":37.2,"v":0.0141},{"p":"P1a","f":37.5,"v":0.0155},{"p":"P1a","f":37.6,"v":0.0139},{"p":"P1a","f":37.8,"v":0.0128},{"p":"P1a","f":38,"v":0.0146},{"p":"P1a","f":38.1,"v":0.0122},{"p":"P1a","f":38.3,"v":0.0158},{"p":"P1a","f":38.6,"v":0.0112},{"p":"P1a","f":38.8,"v":0.0135},{"p":"P1a","f":38.9,"v":0.0149},{"p":"P1a","f":39.1,"v":0.0162},{"p":"P1a","f":39.3,"v":0.0148},{"p":"P1a","f":39.4,"v":0.0135},{"p":"P1a","f":39.7,"v":0.0095},{"p":"P1a","f":39.9,"v":0.0128},{"p":"P1a","f":40,"v":0.0155},
{"p":"P1b","f":27.3,"v":0.0078},{"p":"P1b","f":27.6,"v":0.0086},{"p":"P1b","f":27.9,"v":0.0081},{"p":"P1b","f":28,"v":0.0092},{"p":"P1b","f":28.2,"v":0.0089},{"p":"P1b","f":28.5,"v":0.0076},{"p":"P1b","f":28.8,"v":0.0084},{"p":"P1b","f":29.1,"v":0.0091},{"p":"P1b","f":29.4,"v":0.008},{"p":"P1b","f":29.7,"v":0.0087},{"p":"P1b","f":30,"v":0.0078},{"p":"P1b","f":30.3,"v":0.0092},{"p":"P1b","f":30.5,"v":0.0075},{"p":"P1b","f":30.6,"v":0.0083},{"p":"P1b","f":30.9,"v":0.0088},{"p":"P1b","f":31.2,"v":0.0079},{"p":"P1b","f":31.5,"v":0.0094},{"p":"P1b","f":31.8,"v":0.0085},{"p":"P1b","f":32.1,"v":0.008},{"p":"P1b","f":32.4,"v":0.009},{"p":"P1b","f":32.7,"v":0.0083},{"p":"P1b","f":32.9,"v":0.0087},{"p":"P1b","f":33,"v":0.0096},{"p":"P1b","f":33.3,"v":0.0081},{"p":"P1b","f":33.6,"v":0.0088},{"p":"P1b","f":33.9,"v":0.0077},{"p":"P1b","f":34.2,"v":0.0092},{"p":"P1b","f":34.5,"v":0.0085},{"p":"P1b","f":34.8,"v":0.0098},{"p":"P1b","f":35,"v":0.0093},{"p":"P1b","f":35.1,"v":0.0082},{"p":"P1b","f":35.4,"v":0.009},{"p":"P1b","f":35.7,"v":0.0102},{"p":"P1b","f":36,"v":0.0086},{"p":"P1b","f":36.3,"v":0.0094},{"p":"P1b","f":36.6,"v":0.0081},{"p":"P1b","f":36.9,"v":0.0105},{"p":"P1b","f":37,"v":0.0079},{"p":"P1b","f":37.2,"v":0.0089},{"p":"P1b","f":37.5,"v":0.0097},{"p":"P1b","f":37.8,"v":0.0083},{"p":"P1b","f":38.1,"v":0.0108},{"p":"P1b","f":38.4,"v":0.0092},{"p":"P1b","f":38.7,"v":0.0099},{"p":"P1b","f":39,"v":0.0087},{"p":"P1b","f":39.2,"v":0.0096},{"p":"P1b","f":39.3,"v":0.0103},{"p":"P1b","f":39.6,"v":0.0094},{"p":"P1b","f":39.9,"v":0.011},{"p":"P1b","f":40,"v":0.0088}
]
},
"concat": [
{"width": 241, "height": 151, "title": "|S₁₂|",
 "layer": [
  {"data": {"name": "d"}, "transform": [{"filter": "datum.p == 'OR1'"}],
   "mark": {"type": "line", "clip": false},
   "encoding": {
    "x": {"field": "f", "type": "quantitative", "scale": {"domain": [0, 40], "nice": false}, "axis": {"title": null, "values": [0,2,4,6,8,10,12,14,16,18,20,22,24,26,28,30,32,34,36,38,40], "tickCount": 100, "format": "d", "labelExpr": "datum.value % 10 == 0 && datum.value > 0 ? datum.label : ''", "labelOverlap": false, "labelFlush": false}},
    "y": {"field": "v", "type": "quantitative", "scale": {"domain": [0, 0.296], "nice": false}, "axis": {"title": null, "values": [0.05,0.1,0.15,0.2,0.25], "tickCount": 100, "format": ".3~f", "labelOverlap": false, "labelFlush": false, "minExtent": 31, "maxExtent": 31}},
    "color": {"field": "s", "type": "nominal", "scale": {"domain": ["M","Q","F"], "range": ["#000000","#222222","#9a9a9a"]}, "legend": {"orient": "none", "legendX": 35, "legendY": -80, "title": null, "symbolType": "M-2.5,0H2.5", "symbolSize": 324, "symbolStrokeWidth": 3, "labelFont": "Liberation Sans", "labelFontSize": 19, "labelColor": "#000", "labelOffset": 20, "rowPadding": 0, "labelLimit": 400, "labelExpr": "datum.label == 'M' ? 'Measured' : datum.label == 'Q' ? 'Magneto-quasi-static' : 'Full wave'"}},
    "strokeDash": {"field": "s", "type": "nominal", "scale": {"domain": ["M","Q","F"], "range": [[1,0],[7,4],[1,0]]}, "legend": {"orient": "none", "legendX": 35, "legendY": -80, "title": null, "symbolType": "M-2.5,0H2.5", "symbolSize": 324, "symbolStrokeWidth": 3, "labelFont": "Liberation Sans", "labelFontSize": 19, "labelColor": "#000", "labelOffset": 20, "rowPadding": 0, "labelLimit": 400, "labelExpr": "datum.label == 'M' ? 'Measured' : datum.label == 'Q' ? 'Magneto-quasi-static' : 'Full wave'"}},
    "strokeWidth": {"condition": [{"test": "datum.s == 'M'", "value": 2.2}, {"test": "datum.s == 'F'", "value": 2.6}], "value": 0.9}
   }},
  {"data": {"values": [{}]}, "mark": {"type": "text", "align": "left", "baseline": "middle", "font": "Liberation Sans", "fontSize": 20, "color": "#111"},
   "encoding": {"x": {"datum": 27, "type": "quantitative"}, "y": {"datum": 0.037, "type": "quantitative"}, "text": {"value": "OR1"}}}
 ]},
{"width": 245, "height": 151, "title": "|S₁₂|",
 "layer": [
  {"data": {"name": "d"}, "transform": [{"filter": "datum.p == 'OR2'"}],
   "mark": {"type": "line", "clip": false},
   "encoding": {
    "x": {"field": "f", "type": "quantitative", "scale": {"domain": [0, 40], "nice": false}, "axis": {"title": null, "values": [0,2,4,6,8,10,12,14,16,18,20,22,24,26,28,30,32,34,36,38,40], "tickCount": 100, "format": "d", "labelExpr": "datum.value % 10 == 0 && datum.value > 0 ? datum.label : ''", "labelOverlap": false, "labelFlush": false}},
    "y": {"field": "v", "type": "quantitative", "scale": {"domain": [0, 0.428], "nice": false}, "axis": {"title": null, "values": [0.1,0.2,0.3,0.4], "tickCount": 100, "format": ".3~f", "labelOverlap": false, "labelFlush": false, "minExtent": 24, "maxExtent": 24}},
    "color": {"field": "s", "type": "nominal", "scale": {"domain": ["M","Q","F"], "range": ["#000000","#222222","#9a9a9a"]}, "legend": {"orient": "none", "legendX": 35, "legendY": -80, "title": null, "symbolType": "M-2.5,0H2.5", "symbolSize": 324, "symbolStrokeWidth": 3, "labelFont": "Liberation Sans", "labelFontSize": 19, "labelColor": "#000", "labelOffset": 20, "rowPadding": 0, "labelLimit": 400, "labelExpr": "datum.label == 'M' ? 'Measured' : datum.label == 'Q' ? 'Magneto-quasi-static' : 'Full wave'"}},
    "strokeDash": {"field": "s", "type": "nominal", "scale": {"domain": ["M","Q","F"], "range": [[1,0],[7,4],[1,0]]}, "legend": {"orient": "none", "legendX": 35, "legendY": -80, "title": null, "symbolType": "M-2.5,0H2.5", "symbolSize": 324, "symbolStrokeWidth": 3, "labelFont": "Liberation Sans", "labelFontSize": 19, "labelColor": "#000", "labelOffset": 20, "rowPadding": 0, "labelLimit": 400, "labelExpr": "datum.label == 'M' ? 'Measured' : datum.label == 'Q' ? 'Magneto-quasi-static' : 'Full wave'"}},
    "strokeWidth": {"condition": [{"test": "datum.s == 'M'", "value": 2.2}, {"test": "datum.s == 'F'", "value": 2.6}], "value": 0.9}
   }},
  {"data": {"values": [{}]}, "mark": {"type": "text", "align": "left", "baseline": "middle", "font": "Liberation Sans", "fontSize": 20, "color": "#111"},
   "encoding": {"x": {"datum": 27.4, "type": "quantitative"}, "y": {"datum": 0.06, "type": "quantitative"}, "text": {"value": "OR2"}}}
 ]},
{"width": 232, "height": 151, "title": "|S₁₂|",
 "layer": [
  {"data": {"name": "d"}, "transform": [{"filter": "datum.p == 'P1a'"}],
   "mark": {"type": "line", "clip": false},
   "encoding": {
    "x": {"field": "f", "type": "quantitative", "scale": {"domain": [0, 40], "nice": false}, "axis": {"title": null, "values": [0,2,4,6,8,10,12,14,16,18,20,22,24,26,28,30,32,34,36,38,40], "tickCount": 100, "format": "d", "labelExpr": "datum.value % 10 == 0 && datum.value > 0 && datum.value < 40 ? datum.label : ''", "labelOverlap": false, "labelFlush": false}},
    "y": {"field": "v", "type": "quantitative", "scale": {"domain": [0, 0.0279], "nice": false}, "axis": {"title": null, "values": [0.005,0.01,0.015,0.02,0.025], "tickCount": 100, "format": ".3~f", "labelOverlap": false, "labelFlush": false, "minExtent": 37, "maxExtent": 37}},
    "color": {"field": "s", "type": "nominal", "scale": {"domain": ["M","Q","F"], "range": ["#000000","#222222","#9a9a9a"]}, "legend": {"orient": "none", "legendX": 35, "legendY": -80, "title": null, "symbolType": "M-2.5,0H2.5", "symbolSize": 324, "symbolStrokeWidth": 3, "labelFont": "Liberation Sans", "labelFontSize": 19, "labelColor": "#000", "labelOffset": 20, "rowPadding": 0, "labelLimit": 400, "labelExpr": "datum.label == 'M' ? 'Measured' : datum.label == 'Q' ? 'Magneto-quasi-static' : 'Full wave'"}},
    "strokeDash": {"field": "s", "type": "nominal", "scale": {"domain": ["M","Q","F"], "range": [[1,0],[7,4],[1,0]]}, "legend": {"orient": "none", "legendX": 35, "legendY": -80, "title": null, "symbolType": "M-2.5,0H2.5", "symbolSize": 324, "symbolStrokeWidth": 3, "labelFont": "Liberation Sans", "labelFontSize": 19, "labelColor": "#000", "labelOffset": 20, "rowPadding": 0, "labelLimit": 400, "labelExpr": "datum.label == 'M' ? 'Measured' : datum.label == 'Q' ? 'Magneto-quasi-static' : 'Full wave'"}},
    "strokeWidth": {"condition": [{"test": "datum.s == 'M'", "value": 2.2}, {"test": "datum.s == 'F'", "value": 2.6}], "value": 0.9}
   }},
  {"data": {"name": "sc"}, "transform": [{"filter": "datum.p == 'P1a'"}],
   "mark": {"type": "point", "filled": true, "size": 5, "color": "#000", "opacity": 1},
   "encoding": {"x": {"field": "f", "type": "quantitative"}, "y": {"field": "v", "type": "quantitative"}}},
  {"data": {"values": [{}]}, "mark": {"type": "text", "align": "left", "baseline": "alphabetic", "font": "Liberation Sans", "fontSize": 20, "color": "#111", "lineHeight": 22},
   "encoding": {"x": {"datum": 3.6, "type": "quantitative"}, "y": {"datum": 0.0066, "type": "quantitative"}, "text": {"value": ["P1,", "2 mm lines"]}}}
 ]},
{"width": 235, "height": 150, "title": "|S₁₂|",
 "layer": [
  {"data": {"name": "d"}, "transform": [{"filter": "datum.p == 'OR3'"}],
   "mark": {"type": "line", "clip": false},
   "encoding": {
    "x": {"field": "f", "type": "quantitative", "scale": {"domain": [0, 40], "nice": false}, "axis": {"title": "Frequency (GHz)", "values": [0,2,4,6,8,10,12,14,16,18,20,22,24,26,28,30,32,34,36,38,40], "tickCount": 100, "format": "d", "labelExpr": "datum.value % 10 == 0 && datum.value > 0 ? datum.label : ''", "labelOverlap": false, "labelFlush": false}},
    "y": {"field": "v", "type": "quantitative", "scale": {"domain": [0, 0.186], "nice": false}, "axis": {"title": null, "values": [0.025,0.05,0.075,0.1,0.125,0.15,0.175], "tickCount": 100, "format": ".3~f", "labelOverlap": false, "labelFlush": false, "minExtent": 31, "maxExtent": 31}},
    "color": {"field": "s", "type": "nominal", "scale": {"domain": ["M","Q","F"], "range": ["#000000","#222222","#9a9a9a"]}, "legend": {"orient": "none", "legendX": 35, "legendY": -80, "title": null, "symbolType": "M-2.5,0H2.5", "symbolSize": 324, "symbolStrokeWidth": 3, "labelFont": "Liberation Sans", "labelFontSize": 19, "labelColor": "#000", "labelOffset": 20, "rowPadding": 0, "labelLimit": 400, "labelExpr": "datum.label == 'M' ? 'Measured' : datum.label == 'Q' ? 'Magneto-quasi-static' : 'Full wave'"}},
    "strokeDash": {"field": "s", "type": "nominal", "scale": {"domain": ["M","Q","F"], "range": [[1,0],[7,4],[1,0]]}, "legend": {"orient": "none", "legendX": 35, "legendY": -80, "title": null, "symbolType": "M-2.5,0H2.5", "symbolSize": 324, "symbolStrokeWidth": 3, "labelFont": "Liberation Sans", "labelFontSize": 19, "labelColor": "#000", "labelOffset": 20, "rowPadding": 0, "labelLimit": 400, "labelExpr": "datum.label == 'M' ? 'Measured' : datum.label == 'Q' ? 'Magneto-quasi-static' : 'Full wave'"}},
    "strokeWidth": {"condition": [{"test": "datum.s == 'M'", "value": 2.2}, {"test": "datum.s == 'F'", "value": 2.6}], "value": 0.9}
   }},
  {"data": {"values": [{}]}, "mark": {"type": "text", "align": "left", "baseline": "middle", "font": "Liberation Sans", "fontSize": 20, "color": "#111"},
   "encoding": {"x": {"datum": 28.3, "type": "quantitative"}, "y": {"datum": 0.027, "type": "quantitative"}, "text": {"value": "OR3"}}}
 ]},
{"width": 240, "height": 150, "title": "|S₁₂|",
 "layer": [
  {"data": {"name": "d"}, "transform": [{"filter": "datum.p == 'OR4'"}],
   "mark": {"type": "line", "clip": false},
   "encoding": {
    "x": {"field": "f", "type": "quantitative", "scale": {"domain": [0, 40], "nice": false}, "axis": {"title": "Frequency (GHz)", "values": [0,2,4,6,8,10,12,14,16,18,20,22,24,26,28,30,32,34,36,38,40], "tickCount": 100, "format": "d", "labelExpr": "datum.value % 10 == 0 && datum.value > 0 ? datum.label : ''", "labelOverlap": false, "labelFlush": false}},
    "y": {"field": "v", "type": "quantitative", "scale": {"domain": [0, 0.375], "nice": false}, "axis": {"title": null, "values": [0.05,0.1,0.15,0.2,0.25,0.3,0.35], "tickCount": 100, "format": ".3~f", "labelOverlap": false, "labelFlush": false, "minExtent": 24, "maxExtent": 24}},
    "color": {"field": "s", "type": "nominal", "scale": {"domain": ["M","Q","F"], "range": ["#000000","#222222","#9a9a9a"]}, "legend": {"orient": "none", "legendX": 35, "legendY": -80, "title": null, "symbolType": "M-2.5,0H2.5", "symbolSize": 324, "symbolStrokeWidth": 3, "labelFont": "Liberation Sans", "labelFontSize": 19, "labelColor": "#000", "labelOffset": 20, "rowPadding": 0, "labelLimit": 400, "labelExpr": "datum.label == 'M' ? 'Measured' : datum.label == 'Q' ? 'Magneto-quasi-static' : 'Full wave'"}},
    "strokeDash": {"field": "s", "type": "nominal", "scale": {"domain": ["M","Q","F"], "range": [[1,0],[7,4],[1,0]]}, "legend": {"orient": "none", "legendX": 35, "legendY": -80, "title": null, "symbolType": "M-2.5,0H2.5", "symbolSize": 324, "symbolStrokeWidth": 3, "labelFont": "Liberation Sans", "labelFontSize": 19, "labelColor": "#000", "labelOffset": 20, "rowPadding": 0, "labelLimit": 400, "labelExpr": "datum.label == 'M' ? 'Measured' : datum.label == 'Q' ? 'Magneto-quasi-static' : 'Full wave'"}},
    "strokeWidth": {"condition": [{"test": "datum.s == 'M'", "value": 2.2}, {"test": "datum.s == 'F'", "value": 2.6}], "value": 0.9}
   }},
  {"data": {"values": [{}]}, "mark": {"type": "text", "align": "left", "baseline": "middle", "font": "Liberation Sans", "fontSize": 20, "color": "#111"},
   "encoding": {"x": {"datum": 27.5, "type": "quantitative"}, "y": {"datum": 0.055, "type": "quantitative"}, "text": {"value": "OR4"}}}
 ]},
{"width": 232, "height": 150, "title": "|S₁₂|",
 "layer": [
  {"data": {"name": "d"}, "transform": [{"filter": "datum.p == 'P1b'"}],
   "mark": {"type": "line", "clip": false},
   "encoding": {
    "x": {"field": "f", "type": "quantitative", "scale": {"domain": [0, 40], "nice": false}, "axis": {"title": "Frequency (GHz)", "values": [0,2,4,6,8,10,12,14,16,18,20,22,24,26,28,30,32,34,36,38,40], "tickCount": 100, "format": "d", "labelExpr": "datum.value % 10 == 0 && datum.value > 0 && datum.value < 40 ? datum.label : ''", "labelOverlap": false, "labelFlush": false}},
    "y": {"field": "v", "type": "quantitative", "scale": {"domain": [0, 0.025], "nice": false}, "axis": {"title": null, "values": [0.005,0.01,0.015,0.02], "tickCount": 100, "format": ".3~f", "labelOverlap": false, "labelFlush": false, "minExtent": 37, "maxExtent": 37}},
    "color": {"field": "s", "type": "nominal", "scale": {"domain": ["M","Q","F"], "range": ["#000000","#222222","#9a9a9a"]}, "legend": {"orient": "none", "legendX": 35, "legendY": -80, "title": null, "symbolType": "M-2.5,0H2.5", "symbolSize": 324, "symbolStrokeWidth": 3, "labelFont": "Liberation Sans", "labelFontSize": 19, "labelColor": "#000", "labelOffset": 20, "rowPadding": 0, "labelLimit": 400, "labelExpr": "datum.label == 'M' ? 'Measured' : datum.label == 'Q' ? 'Magneto-quasi-static' : 'Full wave'"}},
    "strokeDash": {"field": "s", "type": "nominal", "scale": {"domain": ["M","Q","F"], "range": [[1,0],[7,4],[1,0]]}, "legend": {"orient": "none", "legendX": 35, "legendY": -80, "title": null, "symbolType": "M-2.5,0H2.5", "symbolSize": 324, "symbolStrokeWidth": 3, "labelFont": "Liberation Sans", "labelFontSize": 19, "labelColor": "#000", "labelOffset": 20, "rowPadding": 0, "labelLimit": 400, "labelExpr": "datum.label == 'M' ? 'Measured' : datum.label == 'Q' ? 'Magneto-quasi-static' : 'Full wave'"}},
    "strokeWidth": {"condition": [{"test": "datum.s == 'M'", "value": 2.2}, {"test": "datum.s == 'F'", "value": 2.6}], "value": 0.9}
   }},
  {"data": {"name": "sc"}, "transform": [{"filter": "datum.p == 'P1b'"}],
   "mark": {"type": "point", "filled": true, "size": 5, "color": "#000", "opacity": 1},
   "encoding": {"x": {"field": "f", "type": "quantitative"}, "y": {"field": "v", "type": "quantitative"}}},
  {"data": {"values": [{}]}, "mark": {"type": "text", "align": "left", "baseline": "alphabetic", "font": "Liberation Sans", "fontSize": 20, "color": "#111", "lineHeight": 23},
   "encoding": {"x": {"datum": 2.8, "type": "quantitative"}, "y": {"datum": 0.0053, "type": "quantitative"}, "text": {"value": ["P1,", "8 mm lines"]}}}
 ]}
],
"config": {
 "view": {"stroke": null},
 "axis": {"labelFont": "Liberation Mono", "labelFontSize": 8, "labelColor": "#555", "domainColor": "#444", "domainWidth": 1, "tickColor": "#555", "tickSize": 2, "labelPadding": 3, "grid": false, "titleFont": "Liberation Sans", "titleFontSize": 21, "titleFontWeight": "normal", "titleColor": "#111", "titlePadding": 1, "labelOverlap": false},
 "title": {"font": "Liberation Sans", "fontSize": 22, "fontWeight": "normal", "anchor": "start", "frame": "bounds", "offset": 14, "baseline": "alphabetic", "color": "#111"}
}
}
